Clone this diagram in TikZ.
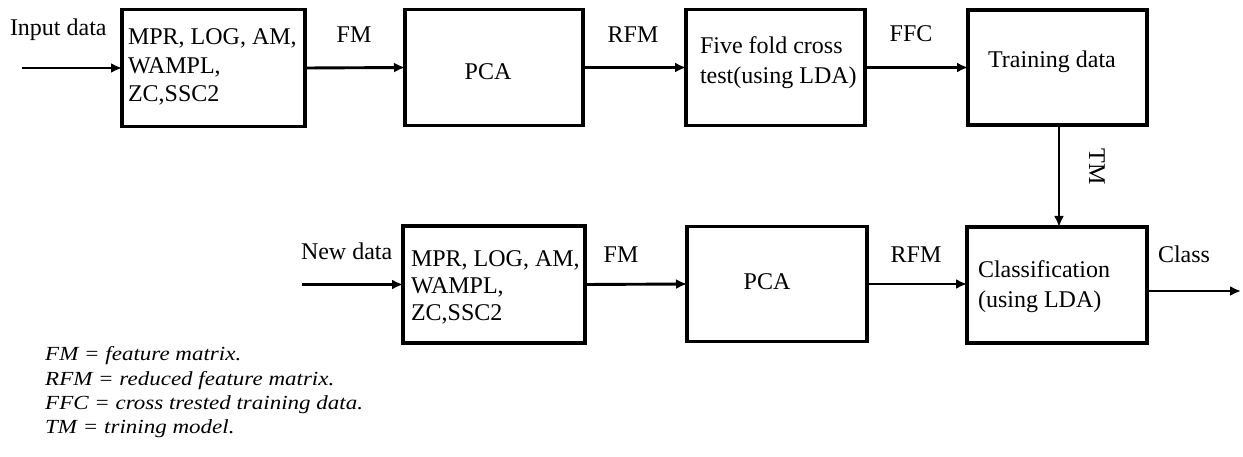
\documentclass[tikz,border=0pt]{standalone}
\usepackage{fontspec}
\setmainfont{Liberation Serif}
\newfontfamily\legendfont{Liberation Serif}[FakeStretch=1.15]
\usetikzlibrary{arrows.meta}

\begin{document}
\begin{tikzpicture}[x=1pt,y=-1pt,
  box/.style={draw, line width=3.2pt, inner sep=0pt, outer sep=0pt},
  txt/.style={font=\fontsize{24}{28.5}\selectfont, inner sep=0pt, outer sep=0pt},
  mtxt/.style={txt, align=left, anchor=north west},
  lbl/.style={txt, anchor=base},
  arr/.style={line width=2.9pt, -{Latex[length=11pt,width=10pt]}},
  legend/.style={font=\legendfont\itshape\fontsize{20}{24.3}\selectfont,
    inner sep=0pt, align=left, anchor=north west}]

\useasboundingbox[fill=white] (0,0) rectangle (1243,457);

% upper chain: feature extraction -> PCA -> cross test -> training
\node[box, minimum width=183pt, minimum height=117pt] (b1) at (213.5,68) {};
\node[box, minimum width=178pt, minimum height=116pt] (p1) at (494,67.5) {};
\node[box, minimum width=179pt, minimum height=116pt] (f1) at (775.5,67.5) {};
\node[box, minimum width=179pt, minimum height=115pt] (t1) at (1057.5,67.5) {};

% lower chain: feature extraction -> PCA -> classification
\node[box, minimum width=182pt, minimum height=117pt] (b2) at (494,284.5) {};
\node[box, minimum width=180pt, minimum height=115pt] (p2) at (777,284) {};
\node[box, minimum width=180pt, minimum height=116pt] (c2) at (1057,285) {};

% box contents
\node[mtxt] (b1t) at (128,29) {MPR, LOG, AM,\\WAMPL,\\ZC,SSC2};
\node[lbl] (p1t) at (488,80) {PCA};
\node[mtxt, font=\fontsize{24}{30}\selectfont] (f1t) at (700,37) {Five fold cross\\test(using LDA)};
\node[lbl] (t1t) at (1052,68) {Training data};
\node[mtxt, font=\fontsize{24}{27}\selectfont] (b2t) at (411,251) {MPR, LOG, AM,\\WAMPL,\\ZC,SSC2};
\node[lbl] (p2t) at (767,290) {PCA};
\node[mtxt, font=\fontsize{24}{30}\selectfont] (c2t) at (978,261) {Classification\\(using LDA)};

% inputs and output
\coordinate (in1) at (22,68);
\coordinate (in2) at (302,284.5);
\coordinate (out) at (1241,291);

\draw[arr] (in1) -- (b1.west);
\draw[arr] (b1.east) -- (p1.west);
\draw[arr] (p1.east) -- (f1.west);
\draw[arr] (f1.east) -- (t1.west);
\draw[arr] ([xshift=1.5pt]t1.south) -- ([xshift=2pt]c2.north);
\draw[arr] (in2) -- (b2.west);
\draw[arr] (b2.east) -- (p2.west);
\draw[arr] (p2.east) -- (p2.east -| c2.west);
\draw[arr] (c2.east |- out) -- (out);

% connector labels
\node[txt, anchor=base west] (lin1) at (10,36) {Input data};
\node[lbl] (lfm1) at (354,43) {FM};
\node[lbl] (lrfm1) at (633,43) {RFM};
\node[lbl] (lffc) at (911,42) {FFC};
\node[txt, rotate=-90] (ltm) at (1097,167) {TM};
\node[txt, anchor=base west] (lin2) at (301,260) {New data};
\node[lbl] (lfm2) at (621,262) {FM};
\node[lbl] (lrfm2) at (916,262) {RFM};
\node[lbl] (lcls) at (1184,262) {Class};

% abbreviations
\node[legend] (key) at (45,346.5) {FM = feature matrix.\\RFM = reduced feature matrix.\\FFC = cross trested training data.\\TM = trining model.};
\end{tikzpicture}
\end{document}
